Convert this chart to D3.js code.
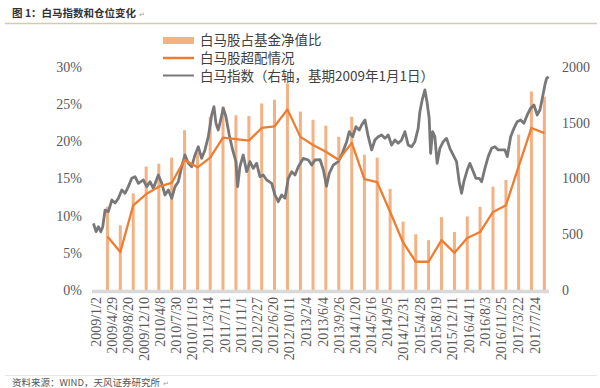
<!DOCTYPE html>
<html><head><meta charset="utf-8">
<script src="https://cdn.jsdelivr.net/npm/d3@7"></script>
<style>body{margin:0;background:#fff;} svg{display:block;}</style>
</head><body><svg id="c" width="600" height="388"></svg>
<script>
// ---------- data ----------
const quarterEnds = [
  "2009-03-31","2009-06-30","2009-09-30","2009-12-31",
  "2010-03-31","2010-06-30","2010-09-30","2010-12-31",
  "2011-03-31","2011-06-30","2011-09-30","2011-12-31",
  "2012-03-31","2012-06-30","2012-09-30","2012-12-31",
  "2013-03-31","2013-06-30","2013-09-30","2013-12-31",
  "2014-03-31","2014-06-30","2014-09-30","2014-12-31",
  "2015-03-31","2015-06-30","2015-09-30","2015-12-31",
  "2016-03-31","2016-06-30","2016-09-30","2016-12-31",
  "2017-03-31","2017-06-30","2017-09-30"];
// 白马股占基金净值比 (%)
const holdingShare = [11.2,8.7,13.0,16.6,17.0,17.8,21.5,18.5,23.3,24.7,23.5,23.4,
  25.1,25.6,27.8,24.0,22.9,22.1,20.6,23.3,18.2,17.8,13.6,9.2,
  7.5,6.7,9.8,7.8,9.9,11.2,13.9,14.8,20.9,26.7,26.0];
// 白马股超配情况 (%)
const overweight = [7.2,5.1,11.4,12.9,13.9,14.4,17.5,16.5,17.8,20.5,20.3,20.1,
  21.8,22.0,24.3,20.6,19.5,18.6,17.5,19.8,14.9,14.5,10.5,6.4,
  3.8,3.8,6.7,5.0,7.0,7.8,10.5,11.4,16.6,21.8,21.1];
// 白马指数 [decimal year, value]
const whiteHorseIndex = [
  [2008.970,598],[2009.022,523],[2009.067,568],[2009.114,523],[2009.152,568],[2009.197,717],
  [2009.261,702],[2009.328,807],[2009.392,780],[2009.456,822],[2009.522,897],[2009.586,867],
  [2009.650,927],[2009.717,1002],[2009.781,1016],[2009.845,957],[2009.942,987],[2010.008,927],
  [2010.073,971],[2010.137,912],[2010.234,1031],[2010.300,957],[2010.364,852],[2010.429,897],
  [2010.495,822],[2010.559,927],[2010.623,971],[2010.689,1106],[2010.753,1211],[2010.818,1136],
  [2010.884,1106],[2010.948,1211],[2011.012,1285],[2011.078,1181],[2011.142,1256],[2011.207,1375],
  [2011.273,1570],[2011.317,1644],[2011.356,1495],[2011.401,1435],[2011.448,1525],[2011.498,1630],
  [2011.551,1554],[2011.615,1390],[2011.681,1256],[2011.745,1151],[2011.778,927],[2011.823,1106],
  [2011.887,1211],[2011.954,1061],[2012.018,1151],[2012.082,1091],[2012.148,1136],[2012.212,1016],
  [2012.276,1031],[2012.343,987],[2012.440,957],[2012.504,852],[2012.568,792],[2012.634,852],
  [2012.699,822],[2012.763,1002],[2012.829,1061],[2012.893,1031],[2012.957,1106],[2013.054,1181],
  [2013.152,1166],[2013.218,1121],[2013.282,1166],[2013.379,1170],[2013.443,1080],[2013.506,930],
  [2013.560,1046],[2013.638,1121],[2013.735,1151],[2013.801,1211],[2013.899,1330],[2013.949,1420],
  [2014.015,1375],[2014.080,1465],[2014.144,1435],[2014.190,1480],[2014.255,1525],[2014.319,1375],
  [2014.385,1256],[2014.449,1345],[2014.513,1375],[2014.579,1390],[2014.644,1360],[2014.708,1390],
  [2014.774,1300],[2014.838,1345],[2014.902,1316],[2014.968,1345],[2015.032,1420],[2015.097,1300],
  [2015.163,1285],[2015.227,1330],[2015.291,1450],[2015.324,1599],[2015.369,1704],[2015.422,1794],
  [2015.467,1674],[2015.505,1540],[2015.533,1226],[2015.572,1420],[2015.616,1375],[2015.661,1136],
  [2015.714,1271],[2015.778,1330],[2015.844,1360],[2015.908,1271],[2015.972,1211],[2016.038,1151],
  [2016.089,971],[2016.136,867],[2016.180,971],[2016.245,1076],[2016.297,1136],[2016.350,1076],
  [2016.414,1002],[2016.478,1002],[2016.525,971],[2016.589,1091],[2016.653,1196],[2016.719,1271],
  [2016.783,1285],[2016.848,1256],[2016.914,1256],[2016.978,1256],[2017.023,1196],[2017.089,1375],
  [2017.153,1450],[2017.217,1510],[2017.283,1525],[2017.347,1495],[2017.412,1570],[2017.478,1630],
  [2017.542,1659],[2017.606,1570],[2017.659,1614],[2017.711,1734],[2017.756,1839],[2017.789,1898],
  [2017.828,1913]];
const xTickLabels = ["2009/1/2","2009/4/29","2009/8/20","2009/12/10","2010/4/8","2010/7/30",
  "2010/11/19","2011/3/14","2011/7/11","2011/11/1","2012/2/27","2012/6/20","2012/10/11",
  "2013/2/4","2013/6/4","2013/9/26","2014/1/20","2014/5/16","2014/9/5","2014/12/31",
  "2015/4/28","2015/8/19","2015/12/11","2016/4/11","2016/8/3","2016/11/25","2017/3/22","2017/7/24"];
const leftTicks = [0,5,10,15,20,25,30];
const rightTicks = [0,500,1000,1500,2000];
const legendLabels = ["白马股占基金净值比","白马股超配情况","白马指数（右轴，基期2009年1月1日）"];
const titleText = "图 1：白马指数和仓位变化";
const sourceText = "资料来源：WIND，天风证券研究所";

// ---------- helpers ----------
const parseDash = d3.timeParse("%Y-%m-%d");
const parseSlash = d3.timeParse("%Y/%m/%d");
function decYear(t){const y=Math.floor(t);const s=new Date(y,0,1),e=new Date(y+1,0,1);return new Date(+s+(t-y)*(e-s));}

const svg = d3.select("#c");
const serif = "'Liberation Serif','Times New Roman',serif";
const cjk = "'Noto Sans CJK SC','Noto Sans',sans-serif";

const x = d3.scaleTime().domain([new Date(2008,11,11), new Date(2017,10,2)]).range([92,549]);
const yL = d3.scaleLinear().domain([0,30]).range([290,67]);
const yR = d3.scaleLinear().domain([0,2000]).range([290,67]);

// title & rules
const title = svg.append("text").attr("x",12).attr("y",17).attr("font-family",cjk).attr("font-weight","bold")
  .attr("font-size",10.5).attr("fill","#333").text(titleText);
const tw = title.node().getComputedTextLength();
svg.append("text").attr("x",12+tw+3).attr("y",17).attr("font-family",cjk).attr("font-size",7)
  .attr("fill","#999").text("↵");
svg.append("line").attr("x1",5).attr("x2",597).attr("y1",23.5).attr("y2",23.5)
  .attr("stroke","#d6c9ae").attr("stroke-width",1.6);
svg.append("line").attr("x1",5).attr("x2",597).attr("y1",375.5).attr("y2",375.5)
  .attr("stroke","#e2e2e2").attr("stroke-width",0.8);
const src = svg.append("text").attr("x",12).attr("y",386).attr("font-family",cjk).attr("font-size",9.5)
  .attr("fill","#555").text(sourceText);
const sw = src.node().getComputedTextLength();
svg.append("text").attr("x",12+sw+3).attr("y",386).attr("font-family",cjk).attr("font-size",6.5)
  .attr("fill","#999").text("↵");

// bars
const qDates = quarterEnds.map(parseDash);
svg.append("g").selectAll("rect").data(holdingShare).join("rect")
  .attr("x",(d,i)=>x(qDates[i])-1.5).attr("width",3)
  .attr("y",d=>yL(d)).attr("height",d=>yL(0)-yL(d))
  .attr("fill","#F4B183");

// baseline
svg.append("line").attr("x1",92).attr("x2",549).attr("y1",291.5).attr("y2",291.5)
  .attr("stroke","#d9d9d9").attr("stroke-width",3.5);

// index line
svg.append("path").datum(whiteHorseIndex)
  .attr("d",d3.line().x(d=>x(decYear(d[0]))).y(d=>yR(d[1])))
  .attr("fill","none").attr("stroke","#787878").attr("stroke-width",2.8)
  .attr("stroke-linejoin","round");

// overweight line
svg.append("path").datum(overweight)
  .attr("d",d3.line().x((d,i)=>x(qDates[i])).y(d=>yL(d)))
  .attr("fill","none").attr("stroke","#ED7D31").attr("stroke-width",2.3)
  .attr("stroke-linejoin","round");

// axes
const gl = svg.append("g").attr("transform","translate(92,0)")
  .call(d3.axisLeft(yL).tickValues(leftTicks).tickFormat(d=>d+"%").tickSize(0).tickPadding(10));
const gr = svg.append("g").attr("transform","translate(549,0)")
  .call(d3.axisRight(yR).tickValues(rightTicks).tickFormat(d3.format("d")).tickSize(0).tickPadding(13));
const gx = svg.append("g").attr("transform","translate(0,292)")
  .call(d3.axisBottom(x).tickValues(xTickLabels.map(parseSlash)).tickSize(0)
    .tickFormat((d,i)=>xTickLabels[i]));
gx.selectAll("text").attr("transform","rotate(-90)").attr("text-anchor","end")
  .attr("x",-5).attr("y",0).attr("dy","0.35em");
[gl,gr,gx].forEach(g=>{
  g.select(".domain").remove();
  g.selectAll("text").attr("font-family",serif).attr("font-size",14).attr("fill","#595959");
});

// legend
const lg = svg.append("g");
lg.append("rect").attr("x",163).attr("y",37).attr("width",31).attr("height",7).attr("fill","#F4B183");
lg.append("line").attr("x1",163).attr("x2",194).attr("y1",58).attr("y2",58)
  .attr("stroke","#ED7D31").attr("stroke-width",2.5);
lg.append("line").attr("x1",163).attr("x2",194).attr("y1",75.5).attr("y2",75.5)
  .attr("stroke","#787878").attr("stroke-width",2);
lg.selectAll("text").data(legendLabels).join("text")
  .attr("x",200).attr("y",(d,i)=>40.5+i*17.7).attr("dy","0.35em")
  .attr("font-family",cjk).attr("font-size",13.5).attr("fill","#404040").text(d=>d);
</script></body></html>
